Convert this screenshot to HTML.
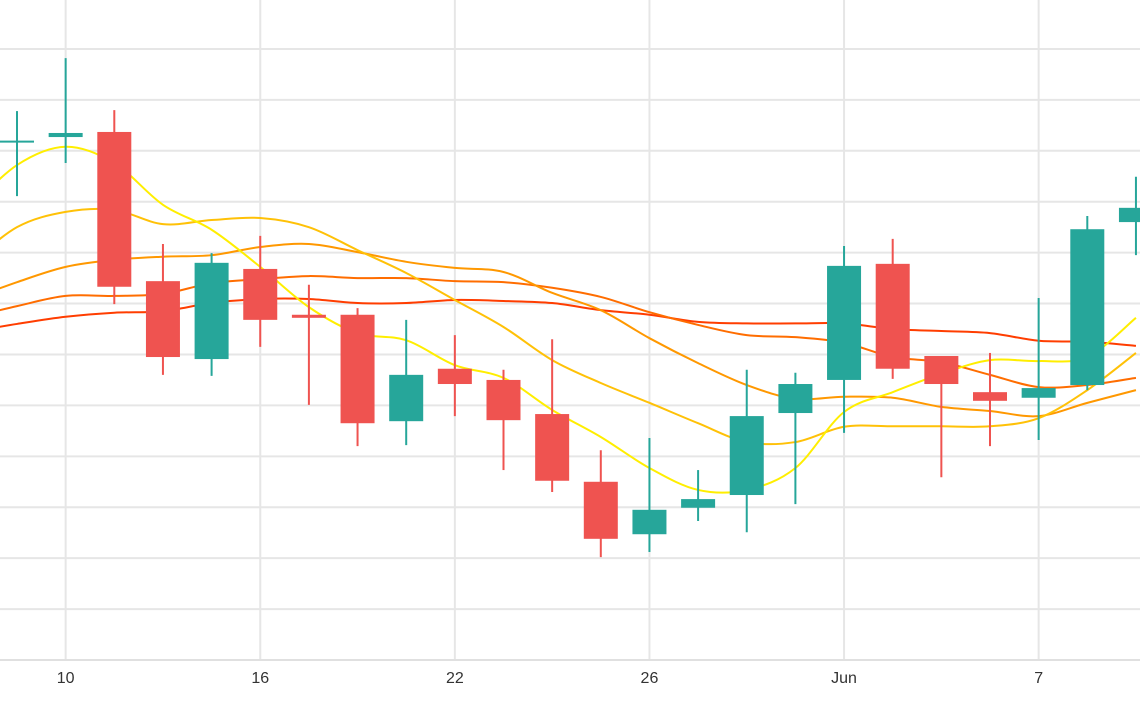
<!DOCTYPE html>
<html><head><meta charset="utf-8"><style>
html,body{margin:0;padding:0;background:#fff;}
svg{display:block;font-family:"Liberation Sans",sans-serif;}
</style></head><body>
<svg id="chart" width="1140" height="710" viewBox="0 0 1140 710">
<g id="grid"></g>
<g id="lines"></g>
<g id="candles"></g>
<g id="xaxis"></g>
</svg>
<script>
const opens  = [101.8,102.7,103.7,74.4,59.1,76.8,67.8,67.8,46.9,57.2,55.0,48.3,35.0,24.7,29.9,32.4,48.5,55.0,77.8,59.7,52.6,51.5,54.0,86.0];
const highs  = [107.8,118.2,108.0,81.7,79.9,83.3,73.7,69.1,66.8,63.8,57.0,63.0,41.2,43.6,37.3,57.0,56.4,81.3,82.7,59.7,60.3,71.1,87.2,94.9];
const lows   = [91.1,97.6,69.9,56.0,55.8,61.5,50.1,42.0,42.2,47.9,37.3,33.0,20.2,21.2,27.3,25.1,30.6,44.6,55.2,35.9,42.0,43.2,53.0,79.5];
const closes = [102.0,103.5,73.3,59.5,78.0,66.8,67.2,46.5,56.0,54.2,47.1,35.2,23.8,29.5,31.6,47.9,54.2,77.4,57.2,54.2,50.9,53.4,84.6,88.8];
// moving averages start one period before the first candle
const ma1 = [88.4,97.2,100.8,97.6,89.4,84.5,77.2,69.3,64.2,62.8,57.9,55.4,49.1,43.8,37.7,33.4,33.4,37.7,48.7,52.6,56.2,58.9,58.7,59.5,67.2];
const ma2 = [77.6,85.0,88.0,88.4,85.6,86.4,86.8,85.0,80.5,76.0,70.7,65.4,58.9,54.4,50.5,46.5,42.8,42.8,45.8,45.9,45.9,45.9,47.5,53.0,60.3];
const ma3 = [70.7,74.2,77.2,78.6,79.2,79.5,81.1,81.7,80.1,78.2,77.0,76.2,72.1,68.7,63.2,58.3,54.0,51.3,51.7,51.5,49.7,48.9,47.9,50.5,53.0];
const ma4 = [67.2,69.5,71.5,71.5,71.9,74.0,74.8,75.4,75.0,75.0,74.4,74.2,73.1,71.3,68.3,65.8,63.8,63.4,62.3,59.5,58.5,56.0,53.6,54.0,55.4];
const ma5 = [64.4,66.0,67.4,68.2,68.5,70.1,70.9,70.9,70.1,70.1,70.7,70.5,70.1,68.7,67.8,66.4,66.1,66.1,66.1,65.0,64.6,64.2,62.7,62.5,61.7];
const tickIdx = [1,5,9,13,17,21];
const tickLabels = ["10","16","22","26","Jun","7"];
const yTicks = [10,20,30,40,50,60,70,80,90,100,110,120];

const NS="http://www.w3.org/2000/svg";
const x = i => 17 + i*48.65;
const y = v => 660 - v*5.092;
function mk(tag, attrs, parent){const e=document.createElementNS(NS,tag);for(const k in attrs)e.setAttribute(k,attrs[k]);parent.appendChild(e);return e;}
const grid=document.getElementById('grid'), lines=document.getElementById('lines'), cg=document.getElementById('candles'), xa=document.getElementById('xaxis');
yTicks.forEach(v=>{
  const l=mk('line',{x1:0,x2:1140,y1:y(v),y2:y(v),stroke:'#e6e6e6','stroke-width':2},grid);
  
  
});
tickIdx.forEach((i,k)=>{
  const l=mk('line',{x1:x(i),x2:x(i),y1:0,y2:660,stroke:'#e6e6e6','stroke-width':2},grid);
  
  
  const t=mk('text',{x:x(i),y:683,'text-anchor':'middle','font-size':16,fill:'#333'},xa);
  t.textContent=tickLabels[k];
  
  
});
const ax=mk('line',{x1:0,x2:1140,y1:660,y2:660,stroke:'#e0e0e0','stroke-width':2},xa);


const maSets=[[ma5,'#ff3d00'],[ma4,'#ff6d00'],[ma3,'#ff9800'],[ma2,'#ffc107'],[ma1,'#ffee00']];
maSets.forEach(([arr,col],k)=>{
  const pts=arr.map((v,i)=>[x(i-1),y(v)]);
  let d='M'+pts[0][0]+','+pts[0][1];
  for(let i=1;i<pts.length;i++){
    const p0=pts[Math.max(i-2,0)],p1=pts[i-1],p2=pts[i],p3=pts[Math.min(i+1,pts.length-1)];
    const c1=[p1[0]+(p2[0]-p0[0])/6,p1[1]+(p2[1]-p0[1])/6],c2=[p2[0]-(p3[0]-p1[0])/6,p2[1]-(p3[1]-p1[1])/6];
    d+=` C${c1[0]},${c1[1]} ${c2[0]},${c2[1]} ${p2[0]},${p2[1]}`;
  }
  const p=mk('path',{d:d,fill:'none',stroke:col,'stroke-width':2},lines);
  
  
});
opens.forEach((o,i)=>{
  const c=closes[i], up=c>=o, col=up?'#26a69a':'#ef5350';
  const g=mk('g',{},cg);
  
  
  mk('line',{x1:x(i),x2:x(i),y1:y(highs[i]),y2:y(lows[i]),stroke:col,'stroke-width':2},g);
  const top=y(Math.max(o,c)), h=Math.max(Math.abs(y(o)-y(c)),2);
  mk('rect',{x:x(i)-17,y:top,width:34,height:h,fill:col},g);
});
</script>
</body></html>
